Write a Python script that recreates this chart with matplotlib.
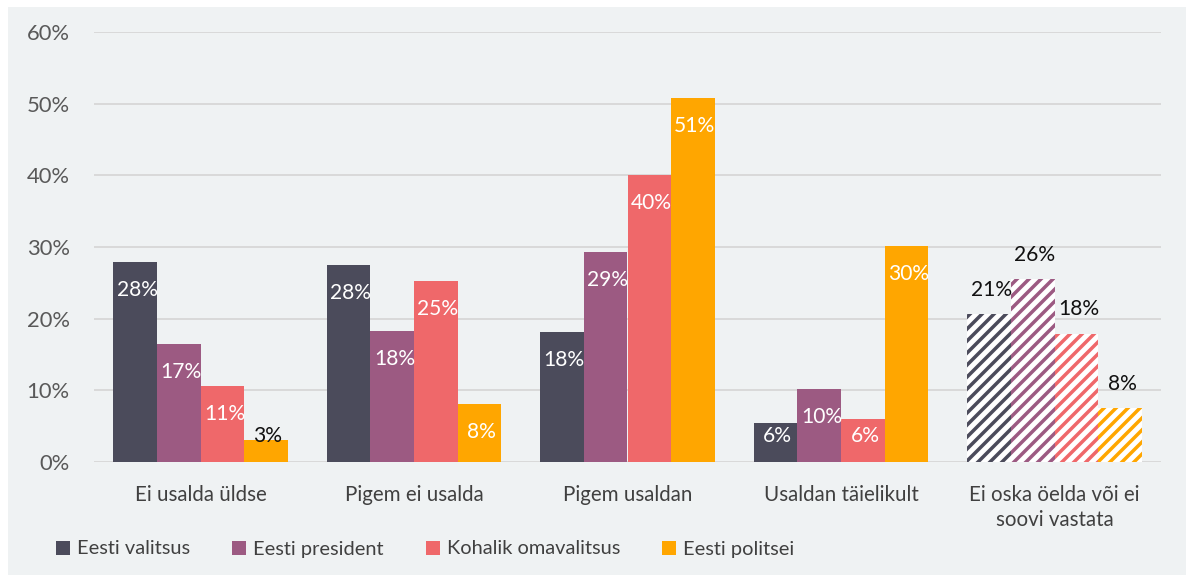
import matplotlib
matplotlib.use("Agg")
import matplotlib.pyplot as plt
from matplotlib.patches import Rectangle
import numpy as np

categories = ["Ei usalda üldse", "Pigem ei usalda", "Pigem usaldan",
              "Usaldan täielikult", "Ei oska öelda või ei\nsoovi vastata"]
series_names = ["Eesti valitsus", "Eesti president", "Kohalik omavalitsus", "Eesti politsei"]
valitsus = [27.9, 27.5, 18.1, 5.4, 20.6]
president = [16.5, 18.3, 29.3, 10.2, 25.5]
kohalik = [10.6, 25.2, 40.0, 6.0, 17.9]
politsei = [3.1, 8.1, 50.8, 30.1, 7.5]
labels = [
    ["28%", "28%", "18%", "6%", "21%"],
    ["17%", "18%", "29%", "10%", "26%"],
    ["11%", "25%", "40%", "6%", "18%"],
    ["3%", "8%", "51%", "30%", "8%"],
]
yticks = [0, 10, 20, 30, 40, 50, 60]
ytick_labels = ["0%", "10%", "20%", "30%", "40%", "50%", "60%"]

colors = ["#4b4b5b", "#9c5a82", "#ef686a", "#ffa600"]
series = [valitsus, president, kohalik, politsei]

DPI = 72
W, H = 1186, 575
plt.rcParams['font.family'] = ['Lato', 'DejaVu Sans']
plt.rcParams['hatch.linewidth'] = 3.5
fig = plt.figure(figsize=(W / DPI, H / DPI), dpi=DPI, facecolor="white")
fig.patches.append(Rectangle((8 / W, 0), 1, (H - 7) / H, transform=fig.transFigure,
                             facecolor="#eff2f3", edgecolor="none", zorder=-10))

ax = fig.add_axes([93.75 / W, (H - 462) / H, 1067.5 / W, 430 / H])
ax.set_facecolor("none")
x = np.arange(len(categories))
bw = 0.204
for i, (vals, col, name) in enumerate(zip(series, colors, series_names)):
    pos = x + (i - 1.5) * bw
    for j, (p, v) in enumerate(zip(pos, vals)):
        if j == len(categories) - 1:
            ax.bar(p, v, bw, facecolor="white", edgecolor=col, hatch="//", linewidth=0, zorder=3)
            ax.text(p + 0.01, v + 3.4, labels[i][j], ha="center", va="center",
                    fontsize=21, color="#111111", zorder=4)
        else:
            ax.bar(p, v, bw, color=col, linewidth=0, zorder=3,
                   label=name if j == 0 else None)
            ly = max(v - 3.9, 3.6)
            tc = "#111111" if v < 5 else "white"
            ax.text(p + 0.01, ly, labels[i][j], ha="center", va="center",
                    fontsize=21, color=tc, zorder=4)

ax.set_xlim(-0.5, 4.5)
ax.set_ylim(0, 60)
ax.set_yticks(yticks)
ax.set_yticklabels(ytick_labels, fontsize=22, color="#595959")
ax.set_xticks(x)
ax.set_xticklabels(categories, fontsize=20.5, color="#404040", linespacing=1.32, va="top")
ax.tick_params(axis="both", length=0)
ax.tick_params(axis="y", pad=24)
ax.tick_params(axis="x", pad=23)
ax.grid(axis="y", color="#d9d9d9", linewidth=2, zorder=0)
for s in ax.spines.values():
    s.set_visible(False)

leg = fig.legend(loc="center left", bbox_to_anchor=(56 / W, (H - 549) / H), ncol=4,
                 frameon=False, fontsize=20, handlelength=0.7, handleheight=0.7,
                 handletextpad=0.35, columnspacing=2.1, labelcolor="#404040",
                 borderpad=0, borderaxespad=0)
fig.savefig("out.png", dpi=DPI, facecolor="white")
